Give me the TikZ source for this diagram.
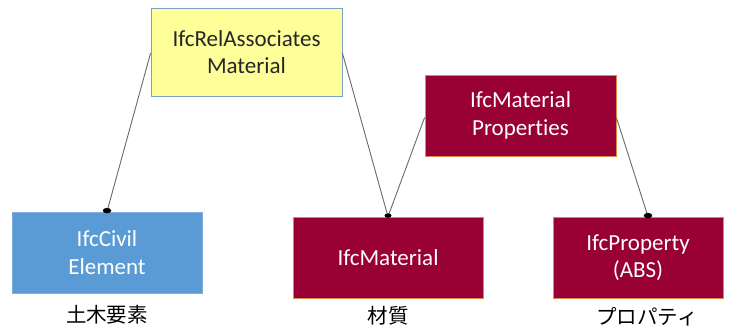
\documentclass[tikz,border=0pt]{standalone}
\usepackage{fontspec}
\usetikzlibrary{calc,shapes.geometric}
\setmainfont[Ligatures=CommonOff]{Carlito}
\newfontfamily\jpfont{Noto Sans CJK JP}
\definecolor{relyellow}{HTML}{FFFF99}
\definecolor{relborder}{HTML}{7F9FC8}
\definecolor{civilblue}{HTML}{5B9BD5}
\definecolor{civilborder}{HTML}{7FAEDC}
\definecolor{matred}{HTML}{990033}
\definecolor{matborder}{HTML}{D98C4A}
\definecolor{linkgray}{HTML}{6A6A6A}
\begin{document}
\begin{tikzpicture}[x=1pt,y=-1pt,
  box/.style={draw, line width=0.8pt, inner sep=0pt, align=center,
    font=\fontsize{23}{27.5}\selectfont},
  relbox/.style={box, fill=relyellow, draw=relborder, text=black!85},
  civilbox/.style={box, fill=civilblue, draw=civilborder, text=white},
  matbox/.style={box, fill=matred, draw=matborder, text=white},
  caption/.style={font=\jpfont\fontsize{20.5}{24}\selectfont, text=black},
  link/.style={draw=linkgray, line width=0.9pt},
  dot/.style={fill=black, ellipse, minimum width=8.5pt, minimum height=5.5pt, inner sep=0pt}]
\useasboundingbox (0,0) rectangle (732,329);
\fill[white] (0,0) rectangle (732,329);

% boxes
\node[relbox, minimum width=191pt, minimum height=88pt] (rel) at (246.5,52) {IfcRelAssociates\\Material};
\node[civilbox, minimum width=190pt, minimum height=81pt] (civil) at (107,252.5) {IfcCivil\\Element};
\node[matbox, minimum width=190pt, minimum height=81pt] (mat) at (388,257.5) {IfcMaterial};
\node[matbox, minimum width=170pt, minimum height=81pt] (prop) at (638,257.5) {IfcProperty\\(ABS)};
\node[matbox, minimum width=191pt, minimum height=81pt] (mprops) at (520.5,115.5) {IfcMaterial\\Properties};

% captions
\node[caption] (civilcap) at (107,315) {土木要素};
\node[caption] (matcap) at (388,316) {材質};
\node[caption] (propcap) at (647,317) {プロパティ};

% connector end points on the box edges
\coordinate (relL) at ($(rel.west)+(0,1)$);
\coordinate (relR) at ($(rel.east)+(0,1)$);
\coordinate (mpL) at ($(mprops.west)+(0,2)$);
\coordinate (mpR) at ($(mprops.east)+(0,2)$);
\coordinate (civilT) at (civil.north);
\coordinate (matT) at (mat.north);
\coordinate (propT) at ($(prop.north)+(10,0)$);

\draw[link] (relL) -- (civilT);
\draw[link] (relR) -- (matT);
\draw[link] (mpL) -- (matT);
\draw[link] (mpR) -- (propT);

\node[dot] (d1) at ($(civilT)+(0,-1)$) {};
\node[dot, minimum width=7pt, minimum height=4.5pt] (d2) at ($(matT)+(0,-1)$) {};
\node[dot] (d3) at ($(propT)+(0,-1)$) {};
\end{tikzpicture}
\end{document}
